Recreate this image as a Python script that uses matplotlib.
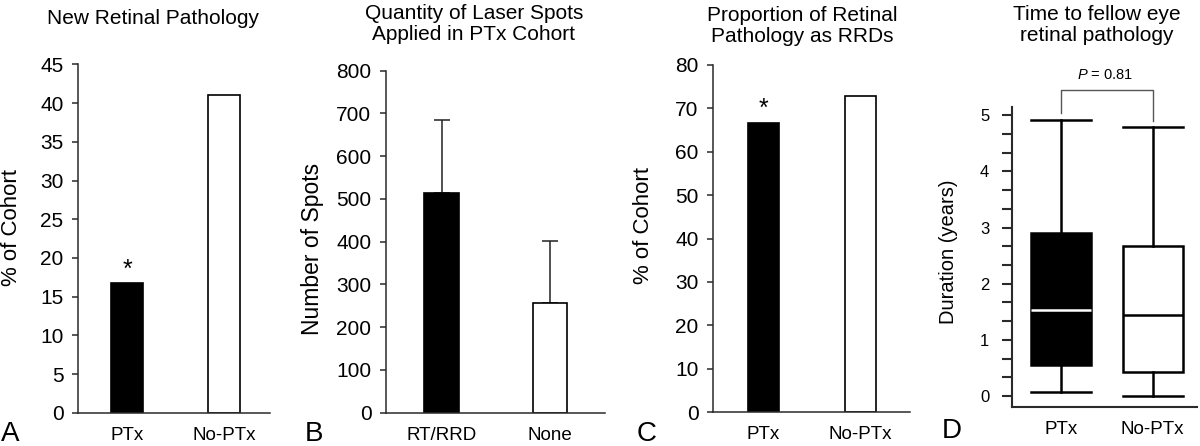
import numpy as np
import matplotlib
matplotlib.use("Agg")
import matplotlib.pyplot as plt
from matplotlib.ticker import MultipleLocator

plt.rcParams['font.family'] = ['Liberation Sans', 'DejaVu Sans']
plt.rcParams['mathtext.fontset'] = 'custom'
plt.rcParams['mathtext.it'] = 'Liberation Sans:italic'
plt.rcParams['mathtext.rm'] = 'Liberation Sans'

# --- data ---
a_groups = ["PTx", "No-PTx"]
a_values = [16.7, 41.1]

b_groups = ["RT/RRD", "None"]
b_values = [513, 257]
b_err_up = [172, 145]

c_groups = ["PTx", "No-PTx"]
c_values = [66.7, 72.9]

d_groups = ["PTx", "No-PTx"]
d_whislo = [0.08, 0.0]
d_q1 = [0.56, 0.43]
d_med = [1.54, 1.44]
d_q3 = [2.90, 2.67]
d_whishi = [4.92, 4.79]
d_pvalue = "0.81"

W, H = 1200, 446
fig = plt.figure(figsize=(W / 100, H / 100), dpi=100)
INK = 'black'
SPINE = '#2a2a2a'


def px_axes(x0, y0, x1, y1):
    return fig.add_axes([x0 / W, 1 - y1 / H, (x1 - x0) / W, (y1 - y0) / H])


def style(ax, tick_len=4.5, pad=6, lw=1.1, ysize=15):
    for s in ['top', 'right']:
        ax.spines[s].set_visible(False)
    for s in ['left', 'bottom']:
        ax.spines[s].set_color(SPINE)
        ax.spines[s].set_linewidth(lw)
    ax.tick_params(axis='y', direction='out', length=tick_len, width=lw, color=SPINE,
                   labelsize=ysize, pad=pad, labelcolor=INK)
    ax.tick_params(axis='x', length=0, labelsize=13.5, pad=10, labelcolor=INK)


def bar_panel(ax, groups, values, ylim, step, width):
    x = np.arange(len(groups))
    ax.bar(x, values, width=width, color=['black', 'white'], edgecolor='black',
           linewidth=1.2, zorder=2)
    ax.set_xticks(x)
    ax.set_xticklabels(groups)
    ax.set_ylim(*ylim)
    ax.yaxis.set_major_locator(MultipleLocator(step))
    style(ax)
    return x


# Panel A
axA = px_axes(78, 64.4, 270, 412.7)
xA = bar_panel(axA, a_groups, a_values, (0, 45), 5, 0.33)
axA.set_xlim(-0.505, 1.47)
axA.annotate('*', xy=(xA[0], a_values[0]), xytext=(0, 1), textcoords='offset points',
             ha='center', va='bottom', fontsize=18, color=INK)

# Panel B
axB = px_axes(386, 70.7, 605, 412.7)
xB = bar_panel(axB, b_groups, b_values, (0, 800), 100, 0.32)
axB.set_xlim(-0.514, 1.51)
axB.errorbar(xB, b_values, yerr=[np.zeros(len(b_values)), b_err_up], fmt='none',
             ecolor='#222222', elinewidth=1.1, capsize=6, capthick=1.1, zorder=1)

# Panel C
axC = px_axes(713, 65, 910, 412)
xC = bar_panel(axC, c_groups, c_values, (0, 80), 10, 0.32)
axC.set_xlim(-0.52, 1.51)
axC.annotate('*', xy=(xC[0], c_values[0]), xytext=(0, 1), textcoords='offset points',
             ha='center', va='bottom', fontsize=18, color=INK)

# Panel D
axD = px_axes(1011.5, 107, 1197, 407)
stats = []
for i, g in enumerate(d_groups):
    stats.append(dict(label=g, whislo=d_whislo[i], q1=d_q1[i], med=d_med[i],
                      q3=d_q3[i], whishi=d_whishi[i], fliers=[]))
bw = 0.656
bp = axD.bxp(stats, positions=[1, 2], widths=bw, showfliers=False, patch_artist=True,
             capwidths=bw,
             boxprops=dict(linewidth=1.8, edgecolor='black'),
             whiskerprops=dict(linewidth=1.8, color='black'),
             capprops=dict(linewidth=1.8, color='black'),
             medianprops=dict(linewidth=1.8))
for patch, fc in zip(bp['boxes'], ['black', 'white']):
    patch.set_facecolor(fc)
for med, mc in zip(bp['medians'], ['white', 'black']):
    med.set_color(mc)
axD.set_xlim(0.459, 2.486)
axD.set_ylim(-0.196, 5.148)
axD.yaxis.set_major_locator(MultipleLocator(1))
axD.yaxis.set_minor_locator(MultipleLocator(1 / 3))
style(axD, tick_len=7, pad=9, lw=1.5, ysize=12)
axD.tick_params(axis='y', which='minor', length=7, width=1.5, color=SPINE)
axD.set_xticks([1, 2])
axD.set_xticklabels(d_groups)

# significance bracket
yl = d_whishi[0] + 0.13
yr = d_whishi[1] + 0.11
ytop = max(d_whishi) + 0.53
axD.plot([1, 1, 2, 2], [yl, ytop, ytop, yr], color='#555555', lw=1.0, clip_on=False)
axD.text(1.48, ytop + 0.27, '$P$ = ' + d_pvalue, ha='center', va='center',
         fontsize=10.5, color=INK)

# titles
fig.text(153 / W, 1 - 18 / H, 'New Retinal Pathology', ha='center', va='center',
         fontsize=15, color=INK)
fig.text(474 / W, 1 - 24 / H, 'Quantity of Laser Spots\nApplied in PTx Cohort',
         ha='center', va='center', fontsize=15, color=INK, linespacing=1.12)
fig.text(802 / W, 1 - 26 / H, 'Proportion of Retinal\nPathology as RRDs',
         ha='center', va='center', fontsize=15, color=INK, linespacing=1.12)
fig.text(1097 / W, 1 - 25 / H, 'Time to fellow eye\nretinal pathology',
         ha='center', va='center', fontsize=15, color=INK, linespacing=1.12)

# y labels
fig.text(12 / W, 1 - 227 / H, '% of Cohort', rotation=90, ha='center', va='center',
         fontsize=16, color=INK)
fig.text(312 / W, 1 - 249 / H, 'Number of Spots', rotation=90, ha='center', va='center',
         fontsize=16.5, color=INK)
fig.text(643 / W, 1 - 225 / H, '% of Cohort', rotation=90, ha='center', va='center',
         fontsize=16, color=INK)
fig.text(948 / W, 1 - 252 / H, 'Duration (years)', rotation=90, ha='center', va='center',
         fontsize=14.5, color=INK)

# panel letters
for letter, xc, yc in [('A', 10, 434), ('B', 314, 434), ('C', 647, 434), ('D', 952, 431)]:
    fig.text(xc / W, 1 - yc / H, letter, ha='center', va='center', fontsize=20, color=INK)

fig.savefig('out.png', dpi=100)
